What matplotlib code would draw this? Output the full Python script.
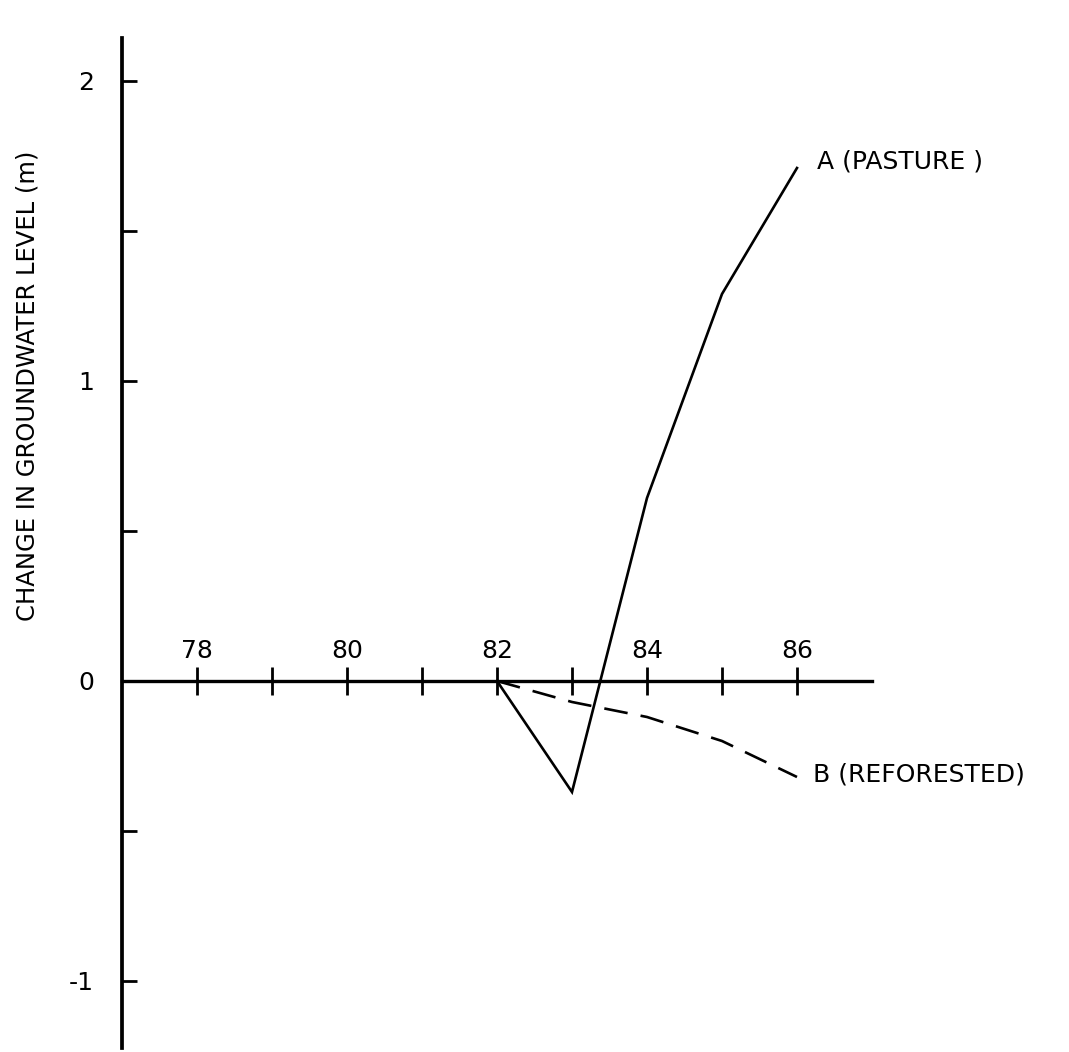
import matplotlib.pyplot as plt

# groundwater level change per year (m)
years = [82, 83, 84, 85, 86]
pasture = [0.0, -0.37, 0.61, 1.29, 1.71]
reforested = [0.0, -0.07, -0.12, -0.20, -0.32]

year_ticks = [78, 79, 80, 81, 82, 83, 84, 85, 86]
year_labels = ["78", "", "80", "", "82", "", "84", "", "86"]
level_ticks = [-1, 0, 1, 2]
level_labels = ["-1", "0", "1", "2"]
level_minor = [-0.5, 0.5, 1.5]

plt.rcParams['font.family'] = ['DejaVu Sans']

fig = plt.figure(figsize=(10.69, 10.52), dpi=100)
ax = fig.add_axes([0, 0, 1, 1])
ax.set_xlim(75.373, 89.627)
ax.set_ylim(-1.2367, 2.27)
ax.patch.set_alpha(0)

# axes drawn as crossing lines: y axis at 77, year axis at 0
ax.spines['left'].set_position(('data', 77))
ax.spines['left'].set_bounds(-1.223, 2.143)
ax.spines['left'].set_linewidth(2.7)
ax.spines['top'].set_position(('data', 0))
ax.spines['top'].set_bounds(77, 87)
ax.spines['top'].set_linewidth(2.4)
ax.spines['bottom'].set_visible(False)
ax.spines['right'].set_visible(False)

ax.xaxis.set_ticks_position('top')
ax.set_xticks(year_ticks)
ax.set_xticklabels(year_labels)
ax.tick_params(axis='x', direction='inout', length=20, width=2, pad=3,
               labelsize=18)

ax.set_yticks(level_ticks)
ax.set_yticklabels(level_labels)
ax.set_yticks(level_minor, minor=True)
ax.tick_params(axis='y', which='both', direction='in', length=11, width=2,
               pad=20, labelsize=18)

ax.plot(years, pasture, color='black', lw=1.9, solid_joinstyle='miter')
ax.plot(years, reforested, color='black', lw=1.9, dashes=(9, 5))

ax.text(86.27, 1.73, "A (PASTURE )", fontsize=18, va='center', ha='left')
ax.text(86.21, -0.313, "B (REFORESTED)", fontsize=18, va='center', ha='left')

fig.text(28 / 1069, 1 - 386 / 1052, "CHANGE IN GROUNDWATER LEVEL (m)",
         rotation=90, fontsize=17.5, ha='center', va='center')

fig.savefig("out.png", dpi=100)
